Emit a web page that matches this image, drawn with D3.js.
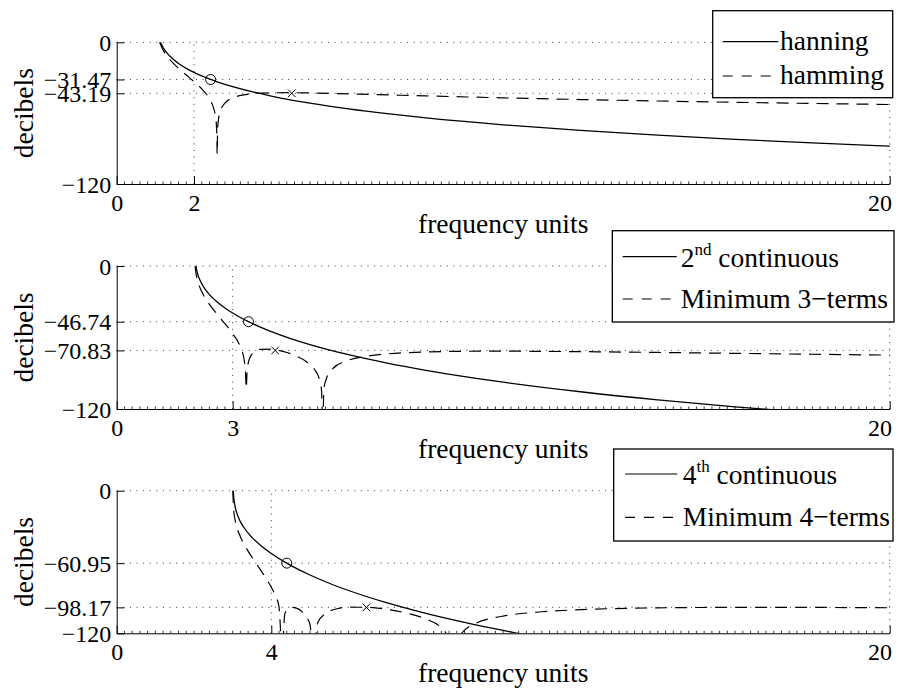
<!DOCTYPE html>
<html>
<head>
<meta charset="utf-8">
<script src="https://cdn.jsdelivr.net/npm/d3@7"></script>
<style>
  html, body { margin: 0; padding: 0; background: #fff; }
  svg, svg text { font-family: "Liberation Serif", "Times New Roman", Tinos, Times, "DejaVu Serif", serif; }
</style>
</head>
<body>
<svg id="fig" width="906" height="694"></svg>
<script>
// ---- window spectra: sidelobe envelopes in dB vs frequency (bins) ----

// panel 1: hanning vs hamming
const xTicks1 = [0, 2, 20];
const yTicks1 = [-120, -43.19, -31.47, 0];
const hanningDb = [[1.132,0],[1.15,-1.33],[1.2,-4.40],[1.3,-9.00],[1.4,-12.51],[1.5,-15.40],[1.6,-17.89],[1.8,-22.05],[2.0,-25.51],[2.2,-28.48],[2.43,-31.47],[2.6,-33.45],[3.0,-37.55],[3.5,-41.85],[4,-45.51],[5,-51.53],[6,-56.39],[7,-60.47],[8,-63.99],[10,-69.86],[12,-74.63],[14,-78.67],[16,-82.16],[18,-85.23],[20,-87.98]];
const hammingDb = [[1.111,0],[1.15,-3.22],[1.2,-6.48],[1.3,-11.50],[1.4,-15.49],[1.5,-18.92],[1.6,-22.03],[1.8,-27.73],[2.0,-33.31],[2.2,-39.44],[2.4,-47.77],[2.5,-54.91],[2.55,-61.60],[2.58,-70.39],[2.59,-77.48],[2.6,-95.0],[2.61,-74.29],[2.62,-69.09],[2.65,-61.88],[2.7,-56.48],[2.8,-51.43],[3.0,-47.09],[3.25,-44.75],[3.5,-43.63],[4.0,-42.77],[4.53,-42.68],[5,-42.89],[6,-43.65],[8,-45.42],[10,-47.05],[12,-48.47],[14,-49.71],[16,-50.81],[18,-51.79],[20,-52.68]];
const hanningPeak = [2.43, -31.47];
const hammingPeak = [4.53, -43.19];

// panel 2: 2nd-derivative continuous vs minimum 3-term
const xTicks2 = [0, 3, 20];
const yTicks2 = [-120, -70.83, -46.74, 0];
const cont2Db = [[2.048,0],[2.06,-2.13],[2.1,-7.26],[2.15,-11.61],[2.2,-14.92],[2.3,-20.00],[2.4,-23.97],[2.6,-30.23],[2.8,-35.23],[3.0,-39.49],[3.2,-43.22],[3.41,-46.74],[3.7,-51.06],[4,-55.05],[4.5,-60.87],[5,-65.93],[6,-74.45],[7,-81.49],[8,-87.51],[10,-97.46],[12,-105.51],[14,-112.29],[16,-118.14],[18,-123.29],[20,-127.90]];
const min3Db = [[2.027,0],[2.05,-5.83],[2.1,-13.05],[2.2,-21.44],[2.4,-32.18],[2.6,-40.58],[2.8,-48.43],[3.0,-56.81],[3.2,-68.13],[3.3,-79.30],[3.33,-87.24],[3.352,-102.6],[3.37,-90.10],[3.4,-82.00],[3.5,-73.96],[3.7,-70.00],[4.0,-69.71],[4.1,-70.17],[4.3,-71.60],[4.6,-74.89],[4.9,-80.08],[5.1,-86.00],[5.25,-95.63],[5.3,-104.47],[5.329,-135],[5.36,-104.02],[5.4,-96.92],[5.6,-85.83],[6.0,-79.03],[6.5,-75.54],[7,-73.75],[8,-72.12],[9,-71.57],[10,-71.48],[12,-71.87],[14,-72.55],[16,-73.30],[18,-74.06],[20,-74.78]];
const cont2Peak = [3.41, -46.74];
const min3Peak = [4.10, -70.83];

// panel 3: 4th-derivative continuous vs minimum 4-term
const xTicks3 = [0, 4, 20];
const yTicks3 = [-120, -98.17, -60.95, 0];
const cont4Db = [[3.0153,0],[3.03,-6.14],[3.06,-12.78],[3.1,-18.03],[3.2,-26.01],[3.3,-31.38],[3.5,-39.29],[3.75,-46.76],[4.0,-52.87],[4.4,-61.00],[4.5,-62.81],[5,-70.93],[5.5,-77.88],[6,-83.99],[7,-94.45],[8,-103.24],[9,-110.84],[10,-117.56],[11,-123.58],[12,-129.04]];
const min4Db = [[3.0046,0],[3.02,-13.27],[3.05,-22.15],[3.1,-29.69],[3.2,-38.74],[3.3,-45.30],[3.5,-55.97],[3.7,-65.60],[3.9,-75.57],[4.0,-81.21],[4.1,-87.99],[4.2,-97.93],[4.28,-135],[4.35,-103.65],[4.45,-98.96],[4.55,-98.14],[4.65,-98.85],[4.8,-101.92],[4.95,-108.38],[5.0,-112.38],[5.09,-135],[5.2,-111.19],[5.4,-103.31],[5.7,-99.37],[6.0,-98.05],[6.46,-98.11],[7.0,-99.94],[7.5,-103.01],[8.0,-107.96],[8.4,-115.41],[8.6,-124.18],[8.72,-135],[8.9,-121.02],[9.0,-117.30],[9.3,-111.38],[9.7,-107.37],[10,-105.47],[11,-101.87],[12,-100.11],[14,-98.60],[16,-98.19],[18,-98.24],[20,-98.50]];
const cont4Peak = [4.40, -60.95];
const min4Peak = [6.46, -98.17];

// legend entries
const solidNames = ["hanning", "2", "4"];
const solidSup = ["", "nd", "th"];
const solidRest = ["", " continuous", " continuous"];
const dashedNames = ["hamming", "Minimum 3\u2212terms", "Minimum 4\u2212terms"];

// ---- layout ----
const svg = d3.select("#fig");
const serif = "'Liberation Serif', 'Times New Roman', Tinos, Times, 'DejaVu Serif', serif";
const xLeft = 116.7, xRight = 889.7;
const tickFont = 24, labelFont = 27.5;
const dashPattern = "12,8";
const gridPattern = "1,5.6";

const panels = [
  { top: 42.3, bottom: 184, xt: xTicks1, yt: yTicks1, solid: hanningDb, dashed: hammingDb, circ: hanningPeak, cross: hammingPeak,
    leg: { x0: 712.7, x1: 892.7, y0: 10.7, y1: 97.7, sx0: 722.7, sx1: 778.3, tx: 780, ly: [41.7, 76], by: [50, 84.3] } },
  { top: 266, bottom: 409, xt: xTicks2, yt: yTicks2, solid: cont2Db, dashed: min3Db, circ: cont2Peak, cross: min3Peak,
    leg: { x0: 612.3, x1: 894, y0: 230.7, y1: 322, sx0: 622.7, sx1: 676.7, tx: 680.7, ly: [256.7, 299], by: [267.3, 308.3] } },
  { top: 490.7, bottom: 633.3, xt: xTicks3, yt: yTicks3, solid: cont4Db, dashed: min4Db, circ: cont4Peak, cross: min4Peak,
    leg: { x0: 613.7, x1: 893, y0: 449, y1: 541, sx0: 625, sx1: 677.3, tx: 682.7, ly: [474, 517.3], by: [484, 526] } }
];

const fmt = d => (d < 0 ? "\u2212" : "") + Math.abs(d);

panels.forEach((p, i) => {
  const x = d3.scaleLinear().domain([0, 20]).range([xLeft, xRight]);
  const y = d3.scaleLinear().domain([-120, 0]).range([p.bottom, p.top]);
  const g = svg.append("g").attr("font-family", serif);

  // clip region for the curves
  const clipId = "clip" + i;
  svg.append("defs").append("clipPath").attr("id", clipId)
    .append("rect").attr("x", xLeft).attr("y", p.top - 1.5)
    .attr("width", xRight - xLeft + 1).attr("height", p.bottom - p.top + 1.5);

  // dotted grid
  const grid = g.append("g").attr("stroke", "#222").attr("stroke-width", 0.9)
    .attr("stroke-dasharray", gridPattern).attr("fill", "none");
  p.yt.filter(v => v !== -120).forEach(v => {
    grid.append("line").attr("x1", xLeft).attr("x2", xRight)
      .attr("y1", y(v)).attr("y2", y(v));
  });
  p.xt.filter(v => v !== 0).forEach(v => {
    grid.append("line").attr("x1", x(v)).attr("x2", x(v))
      .attr("y1", p.bottom).attr("y2", p.top);
  });

  // curves
  const line = d3.line().x(d => x(d[0])).y(d => y(d[1])).curve(d3.curveMonotoneX);
  const curves = g.append("g").attr("clip-path", `url(#${clipId})`).attr("fill", "none").attr("stroke", "#000");
  curves.append("path").datum(p.solid).attr("d", line).attr("stroke-width", 1.3);
  curves.append("path").datum(p.dashed).attr("d", line).attr("stroke-width", 1.2)
    .attr("stroke-dasharray", dashPattern);

  // peak markers
  g.append("circle").attr("cx", x(p.circ[0])).attr("cy", y(p.circ[1])).attr("r", 5)
    .attr("fill", "none").attr("stroke", "#000").attr("stroke-width", 1);
  const cx = x(p.cross[0]), cy = y(p.cross[1]), s = 3.8;
  g.append("path").attr("d", `M${cx - s},${cy - s}L${cx + s},${cy + s}M${cx - s},${cy + s}L${cx + s},${cy - s}`)
    .attr("stroke", "#000").attr("stroke-width", 1).attr("fill", "none");

  // minor ticks along the frequency axis
  const minor = d3.range(0, 20.0001, 0.2).filter(v => !p.xt.some(t => Math.abs(t - v) < 1e-6));
  g.append("g").selectAll("line").data(minor).join("line")
    .attr("x1", d => x(d)).attr("x2", d => x(d))
    .attr("y1", p.bottom).attr("y2", p.bottom - 2.5)
    .attr("stroke", "#000").attr("stroke-width", 0.8);

  // x axis
  const xa = g.append("g").attr("transform", `translate(0,${p.bottom})`)
    .call(d3.axisBottom(x).tickValues(p.xt).tickSize(-7.7).tickSizeOuter(0).tickFormat(fmt));
  xa.attr("font-family", serif);
  xa.select(".domain").attr("stroke", "#000").attr("stroke-width", 1);
  xa.selectAll(".tick line").attr("stroke", "#000");
  xa.selectAll("text").attr("y", 27).attr("dy", null)
    .attr("font-size", tickFont).attr("font-family", serif).attr("fill", "#000");
  xa.selectAll(".tick").filter(d => d === 20).select("text")
    .attr("text-anchor", "end").attr("x", 1.8);

  // y axis
  const ya = g.append("g").attr("transform", `translate(${xLeft},0)`)
    .call(d3.axisLeft(y).tickValues(p.yt).tickSize(-7.7).tickSizeOuter(0).tickFormat(fmt));
  ya.attr("font-family", serif);
  ya.select(".domain").attr("stroke", "#000").attr("stroke-width", 1);
  ya.selectAll(".tick line").attr("stroke", "#000");
  ya.selectAll("text").attr("x", -5.5).attr("y", 8).attr("dy", null)
    .attr("font-size", tickFont).attr("font-family", serif).attr("fill", "#000");

  // axis titles
  g.append("text").attr("x", (xLeft + xRight) / 2).attr("y", p.bottom + 49)
    .attr("text-anchor", "middle").attr("font-size", labelFont).attr("font-family", serif).text("frequency units");
  g.append("text").attr("transform", `translate(33,${(p.top + p.bottom) / 2}) rotate(-90)`)
    .attr("text-anchor", "middle").attr("font-size", labelFont).attr("font-family", serif).text("decibels");

  // legend
  const L = p.leg;
  const lg = g.append("g");
  lg.append("rect").attr("x", L.x0).attr("y", L.y0).attr("width", L.x1 - L.x0).attr("height", L.y1 - L.y0)
    .attr("fill", "#fff").attr("stroke", "#000").attr("stroke-width", 1.3);
  lg.append("line").attr("x1", L.sx0).attr("x2", L.sx1).attr("y1", L.ly[0]).attr("y2", L.ly[0])
    .attr("stroke", "#000").attr("stroke-width", 1.2);
  lg.append("line").attr("x1", L.sx0).attr("x2", L.sx1).attr("y1", L.ly[1]).attr("y2", L.ly[1])
    .attr("stroke", "#000").attr("stroke-width", 1.2).attr("stroke-dasharray", "10,9");
  const t1 = lg.append("text").attr("x", L.tx).attr("y", L.by[0]).attr("font-size", labelFont).attr("font-family", serif);
  t1.append("tspan").text(solidNames[i]);
  if (solidSup[i]) {
    t1.append("tspan").attr("font-size", 17).attr("dy", -12.3).text(solidSup[i]);
    t1.append("tspan").attr("dy", 12.3).text(solidRest[i]);
  }
  lg.append("text").attr("x", L.tx).attr("y", L.by[1]).attr("font-size", labelFont).attr("font-family", serif).text(dashedNames[i]);
});
</script>
</body>
</html>
